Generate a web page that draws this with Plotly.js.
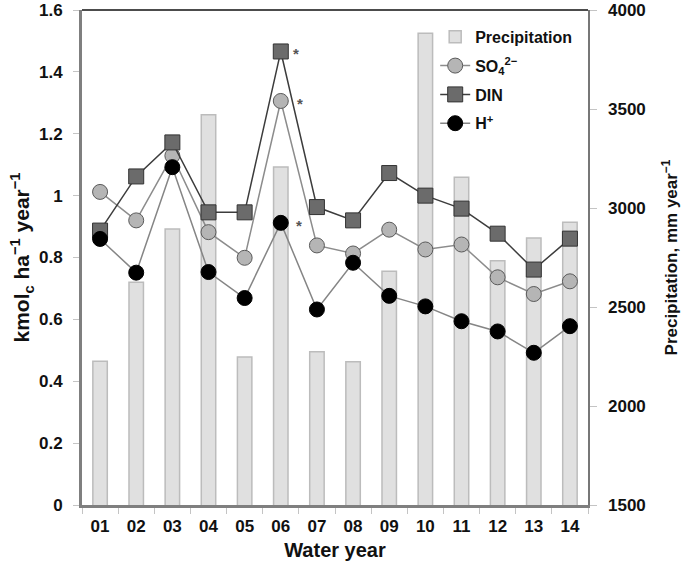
<!DOCTYPE html>
<html>
<head>
<meta charset="utf-8">
<script src="https://cdn.plot.ly/plotly-3.0.1.min.js"></script>
<style>html,body{margin:0;padding:0;background:#fff;}#chart{width:685px;height:577px;}</style>
</head>
<body>
<div id="chart"></div>
<script>
var years = ['01','02','03','04','05','06','07','08','09','10','11','12','13','14'];
var precipitation = [2226, 2625, 2894, 3471, 2247, 3207, 2274, 2223, 2680, 3882, 3155, 2733, 2849, 2928];
var so4 = [1.012, 0.920, 1.129, 0.882, 0.799, 1.306, 0.839, 0.813, 0.890, 0.826, 0.842, 0.736, 0.682, 0.723];
var din = [0.887, 1.062, 1.172, 0.946, 0.946, 1.466, 0.963, 0.920, 1.073, 1.000, 0.958, 0.877, 0.761, 0.861];
var hplus = [0.860, 0.751, 1.092, 0.753, 0.669, 0.912, 0.632, 0.783, 0.676, 0.642, 0.594, 0.561, 0.492, 0.578];
var starYear = '06';

var FONT = 'Liberation Sans, Arial, sans-serif';
var precipRange = [1500, 4000];

var traces = [
  {type:'bar', name:'Precipitation', legendgroup:'g1', x:years, y:precipitation, yaxis:'y', width:0.4,
   marker:{color:'#e0e0e0', line:{color:'#bcbcbc', width:1.5}}},
  {type:'scatter', mode:'lines+markers', name:'SO<sub>4</sub><sup>2\u2212</sup>', legendgroup:'g2', x:years, y:so4, yaxis:'y2',
   line:{color:'#8c8c8c', width:1.5},
   marker:{symbol:'circle', size:15, color:'#b5b5b5', line:{color:'#5a5a5a', width:1}}},
  {type:'scatter', mode:'lines+markers', name:'DIN', legendgroup:'g3', x:years, y:din, yaxis:'y2',
   line:{color:'#3c3c3c', width:1.5},
   marker:{symbol:'square', size:15, color:'#6b6b6b', line:{color:'#333333', width:1}}},
  {type:'scatter', mode:'lines+markers', name:'H<sup>+</sup>', legendgroup:'g4', x:years, y:hplus, yaxis:'y2',
   line:{color:'#858585', width:1.5},
   marker:{symbol:'circle', size:15, color:'#000000', line:{color:'#000000', width:1}}},
  // invisible copy of precipitation that carries the right-hand tick labels (axis y3)
  {type:'scatter', mode:'markers', x:years, y:precipitation, yaxis:'y3', showlegend:false, hoverinfo:'skip',
   marker:{opacity:0, size:1}}
];

var starIdx = years.indexOf(starYear);
var annotations = [
  {x:starIdx, y:din[starIdx], xref:'x', yref:'y2', text:'*', showarrow:false, xshift:15, yshift:-2, font:{family:FONT, size:15, color:'#555'}},
  {x:starIdx, y:so4[starIdx], xref:'x', yref:'y2', text:'*', showarrow:false, xshift:19, yshift:-3, font:{family:FONT, size:15, color:'#555'}},
  {x:starIdx, y:hplus[starIdx], xref:'x', yref:'y2', text:'*', showarrow:false, xshift:18, yshift:-3, font:{family:FONT, size:15, color:'#555'}}
];

var layout = {
  width:685, height:577,
  margin:{l:82, r:97, t:10, b:72, pad:0},
  paper_bgcolor:'#ffffff', plot_bgcolor:'#ffffff',
  font:{family:FONT, size:17, color:'#111', weight:'bold'},
  showlegend:true,
  legend:{x:0.698, y:0.98, xanchor:'left', yanchor:'top', bgcolor:'rgba(255,255,255,0)',
          font:{family:FONT, size:16, color:'#111', weight:'bold'}, traceorder:'grouped', itemwidth:30, tracegroupgap:5},
  xaxis:{type:'category', range:[-0.5, 13.5], showline:true, linecolor:'#7f7f7f', linewidth:3,
         ticks:'outside', tickson:'boundaries', ticklen:6, tickcolor:'#c4c4c4', tickwidth:1,
         showgrid:false, zeroline:false, ticklabelstandoff:4,
         tickfont:{family:FONT, size:17, color:'#111', weight:'bold'},
         title:{text:'Water year', font:{family:FONT, size:20, color:'#111', weight:'bold'}, standoff:8}},
  yaxis:{side:'right', range:precipRange, dtick:500, tick0:1500, showline:true, linecolor:'#777', linewidth:2,
         ticks:'outside', ticklen:7, tickcolor:'#c4c4c4', tickwidth:1, showgrid:false, zeroline:false,
         showticklabels:false},
  yaxis3:{side:'right', overlaying:'y', anchor:'free', position:1, shift:19, autoshift:false,
          range:precipRange, dtick:500, tick0:1500, showline:false, ticks:'', showgrid:false, zeroline:false,
          tickfont:{family:FONT, size:17, color:'#111', weight:'bold'},
          title:{text:'Precipitation, mm year<sup>\u22121</sup>', font:{family:FONT, size:17, color:'#111', weight:'bold'}, standoff:20}},
  yaxis2:{side:'left', overlaying:'y', range:[0, 1.6], dtick:0.2, tick0:0, showline:true, linecolor:'#7f7f7f', linewidth:3,
          ticks:'outside', ticklen:6, tickcolor:'#c4c4c4', tickwidth:1, showgrid:false, zeroline:false,
          ticklabelstandoff:7,
          tickfont:{family:FONT, size:17, color:'#111', weight:'bold'},
          title:{text:'kmol<sub>c</sub> ha<sup>\u22121</sup> year<sup>\u22121</sup>', font:{family:FONT, size:21, color:'#111', weight:'bold'}, standoff:4}},
  shapes:[{type:'line', xref:'paper', yref:'paper', x0:0, x1:1, y0:1, y1:1, line:{color:'#111', width:1.5}}],
  annotations:annotations
};

Plotly.newPlot('chart', traces, layout, {displayModeBar:false, staticPlot:true});
</script>
</body>
</html>
